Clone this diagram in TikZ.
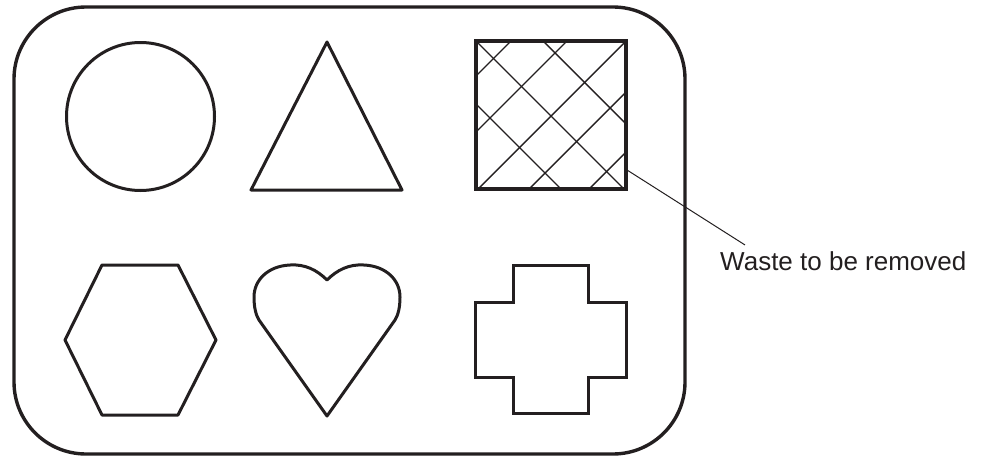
\documentclass[tikz,border=0pt]{standalone}
\usepackage{fontspec}
\setmainfont{Liberation Sans}
\usepackage{tikz}
\usetikzlibrary{calc}
\definecolor{ink}{HTML}{231F20}
\tikzset{tray/.style={draw=ink,line width=3.4pt,rounded corners=72pt},outline/.style={draw=ink,line width=3pt,line join=round},waste/.style={draw=ink,line width=4.6pt},hatch/.style={draw=ink,line width=1.4pt},leader/.style={draw=ink,line width=1pt},lbl/.style={inner sep=0pt,text=ink,font=\fontsize{26}{30}\selectfont}}

\begin{document}
\begin{tikzpicture}[x=1pt,y=-1pt]
\useasboundingbox (0,0) rectangle (981,460);
\draw[tray] (14,7) rectangle (685,454);
% top row
\draw[outline] (140.5,116.5) circle (74);
\draw[outline] (327,42) -- (402,190) -- (251,190) -- cycle;
\begin{scope}
\clip (476,41) rectangle (626,189);
\foreach \c in {-63,0,67}
  \draw[hatch] ($(476,41)+(\c,0)$) -- ++(200,200);
\foreach \c in {35,91,150,201,261}
  \draw[hatch] ($(476,41)+(\c,0)$) -- ++(-200,200);
\end{scope}
\draw[waste] (476,41) rectangle (626,189);
% bottom row
\draw[outline] (102,265) -- (178,265) -- (216,340) -- (178,415) -- (102,415) -- (65,340) -- cycle;
\draw[outline] (327,280) .. controls (317,270) and (305,264) .. (290,265) .. controls (268,266) and (254,280) .. (254,297) .. controls (254,308) and (256,315) .. (259,320) -- (327,416) -- (395,320) .. controls (398,315) and (400,308) .. (400,297) .. controls (400,280) and (386,266) .. (364,265) .. controls (349,264) and (337,270) .. (327,280) -- cycle;
\draw[outline,line join=miter] (513,265) -- (588,265) -- (588,302) -- (626,302) -- (626,377) -- (588,377) -- (588,413) -- (513,413) -- (513,377) -- (475,377) -- (475,302) -- (513,302) -- cycle;
% label
\coordinate (tip) at (627,170);
\node[lbl,anchor=base west] (waste) at (720,270) {Waste to be removed};
\draw[leader] (tip) -- ([shift={(25,-6)}]waste.north west);
\end{tikzpicture}
\end{document}
